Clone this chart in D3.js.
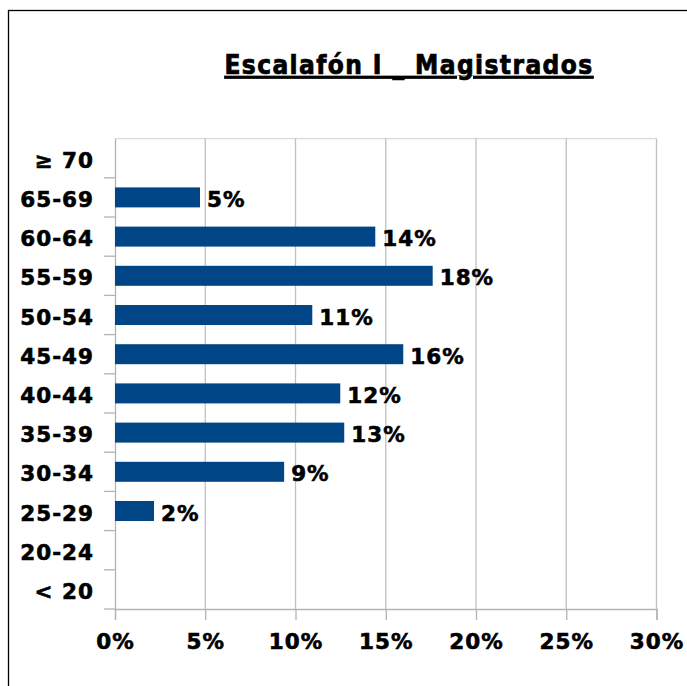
<!DOCTYPE html>
<html>
<head>
<meta charset="utf-8">
<script src="https://cdn.jsdelivr.net/npm/d3@7"></script>
<style>
  body { margin: 0; background: #fff; }
  text { font-family: "DejaVu Sans", Verdana, sans-serif; font-weight: bold; fill: #000; }
</style>
</head>
<body>
<div id="chart"></div>
<script>
const categories = ["≥ 70", "65-69", "60-64", "55-59", "50-54", "45-49", "40-44", "35-39", "30-34", "25-29", "20-24", "< 20"];
const values = [0, 0.0471, 0.1442, 0.176, 0.1093, 0.1597, 0.1248, 0.127, 0.0937, 0.0216, 0, 0];
const xTicks = [0, 0.05, 0.10, 0.15, 0.20, 0.25, 0.30];
const title = "Escalafón I _ Magistrados";

const width = 687;
const height = 686;
const margin = { top: 138.6, right: 30, bottom: 77, left: 115 };

const svg = d3.select("#chart").append("svg")
  .attr("width", width)
  .attr("height", height);

// outer frame (runs off the right and bottom edge)
svg.append("rect")
  .attr("x", 8.5).attr("y", 10.5)
  .attr("width", 720).attr("height", 720)
  .attr("fill", "none")
  .attr("stroke", "#000")
  .attr("stroke-width", 1.3);

const x = d3.scaleLinear()
  .domain([0, 0.30])
  .range([margin.left, 656.5]);

const y = d3.scaleBand()
  .domain(categories)
  .range([margin.top, 609])
  .paddingInner(0.49)
  .paddingOuter(0.245);

const yBands = d3.scaleBand()
  .domain(categories)
  .range([margin.top, 609]);

// title
svg.append("text")
  .attr("x", 409)
  .attr("y", 74)
  .attr("text-anchor", "middle")
  .style("font-family", "'DejaVu Sans Condensed', 'DejaVu Sans', sans-serif")
  .style("font-size", "26px")
  .style("letter-spacing", "1.4px")
  .style("text-decoration", "underline")
  .attr("stroke", "#000")
  .attr("stroke-width", 0.7)
  .text(title);

// plot top border
svg.append("line")
  .attr("x1", x(0)).attr("x2", x(0.30))
  .attr("y1", margin.top).attr("y2", margin.top)
  .attr("stroke", "#d9d9d9").attr("stroke-width", 1.3);

// gridlines
svg.append("g")
  .selectAll("line")
  .data(xTicks.slice(1))
  .enter()
  .append("line")
  .attr("x1", d => x(d)).attr("x2", d => x(d))
  .attr("y1", margin.top).attr("y2", 609)
  .attr("stroke", "#c0c0c0")
  .attr("stroke-width", 1.3);

// x axis
const xAxis = svg.append("g")
  .attr("transform", "translate(0,609)")
  .call(d3.axisBottom(x).tickValues(xTicks).tickFormat(d3.format(".0%")).tickSize(11).tickPadding(14));

// y axis (ticks between categories)
const yAxis = svg.append("g")
  .attr("transform", `translate(${x(0)},0)`)
  .call(d3.axisLeft(yBands).tickSize(0).tickPadding(21));

yAxis.selectAll(".tick-sep")
  .data(categories.slice(1))
  .enter()
  .append("line")
  .attr("x1", -11).attr("x2", 0)
  .attr("y1", d => yBands(d)).attr("y2", d => yBands(d))
  .attr("stroke", "#b3b3b3").attr("stroke-width", 1.3);

yAxis.append("line")
  .attr("x1", -11).attr("x2", 0)
  .attr("y1", 609).attr("y2", 609)
  .attr("stroke", "#b3b3b3").attr("stroke-width", 1.3);

[xAxis, yAxis].forEach(g => {
  g.select(".domain").attr("stroke", "#b3b3b3").attr("stroke-width", 1.3);
  g.selectAll(".tick line").attr("stroke", "#b3b3b3").attr("stroke-width", 1.3);
  g.selectAll(".tick text")
    .style("font-family", "'DejaVu Sans', Verdana, sans-serif")
    .style("font-weight", "bold")
    .style("font-size", "21.5px")
    .style("letter-spacing", "1px")
    .attr("fill", "#000")
    .attr("stroke", "#000")
    .attr("stroke-width", 0.6);
});
xAxis.selectAll(".tick text").attr("dy", "0.71em");
yAxis.selectAll(".tick text").attr("dy", "0.45em");

// bars
svg.append("g")
  .selectAll("rect")
  .data(values.map((v, i) => ({ v, c: categories[i] })).filter(d => d.v > 0))
  .enter()
  .append("rect")
  .attr("x", x(0))
  .attr("y", d => y(d.c))
  .attr("width", d => x(d.v) - x(0))
  .attr("height", y.bandwidth())
  .attr("fill", "#004586");

// value labels
svg.append("g")
  .selectAll("text")
  .data(values.map((v, i) => ({ v, c: categories[i] })).filter(d => d.v > 0))
  .enter()
  .append("text")
  .attr("x", d => x(d.v) + 7)
  .attr("y", d => yBands(d.c) + yBands.bandwidth() / 2)
  .attr("dy", "0.45em")
  .style("font-size", "21.5px")
  .style("letter-spacing", "1px")
  .attr("stroke", "#000")
  .attr("stroke-width", 0.6)
  .text(d => d3.format(".0%")(d.v));
</script>
</body>
</html>
